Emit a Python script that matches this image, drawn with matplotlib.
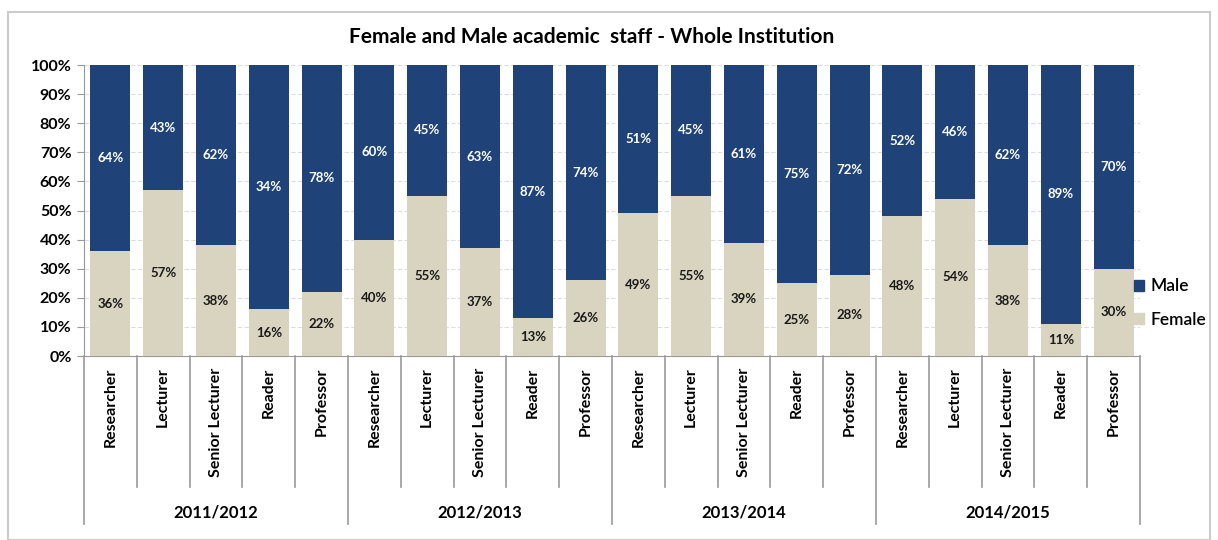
import numpy as np
import matplotlib.pyplot as plt
from matplotlib.lines import Line2D
from matplotlib.patches import Rectangle, Patch

plt.rcParams['font.family'] = ['Lato', 'DejaVu Sans']

# data
years = ['2011/2012', '2012/2013', '2013/2014', '2014/2015']
roles = ['Researcher', 'Lecturer', 'Senior Lecturer', 'Reader', 'Professor']
female = [36, 57, 38, 16, 22,
          40, 55, 37, 13, 26,
          49, 55, 39, 25, 28,
          48, 54, 38, 11, 30]
male_labels = [64, 43, 62, 34, 78,
               60, 45, 63, 87, 74,
               51, 45, 61, 75, 72,
               52, 46, 62, 89, 70]

navy = '#1F4379'
beige = '#D9D4BF'

fig = plt.figure(figsize=(12.18, 5.40), dpi=100)
ax = fig.add_axes([84/1218, (540-356)/540, (1140-84)/1218, 291/540])

n = len(female)
x = np.arange(n)
fem = np.array(female)
top = 100 - fem  # 100% stacked: male fills the rest
ax.bar(x, fem, width=0.76, color=beige, zorder=3)
ax.bar(x, top, bottom=fem, width=0.76, color=navy, zorder=3)

for i in range(n):
    ax.text(x[i], fem[i]/2, f'{female[i]}%', ha='center', va='center',
            fontsize=9.5, fontweight='bold', color='#1a1a1a', zorder=4)
    ax.text(x[i], fem[i] + top[i]/2, f'{male_labels[i]}%', ha='center', va='center',
            fontsize=9.5, fontweight='bold', color='white', zorder=4)

ax.set_xlim(-0.5, n - 0.5)
ax.set_ylim(0, 100)
ax.set_yticks(np.arange(0, 101, 10))
ax.set_yticklabels([f'{v}%' for v in range(0, 101, 10)], fontsize=11.5, fontweight='bold')
ax.yaxis.grid(True, color='#dddddd', linewidth=0.8, linestyle=(0, (4, 2)), zorder=0)
ax.tick_params(axis='y', length=5, color='#999999', pad=4)
ax.set_xticks([])
for s in ['top', 'right']:
    ax.spines[s].set_visible(False)
ax.spines['left'].set_color('#999999')
ax.spines['bottom'].set_color('#999999')

# category labels and separators
inner = (356 - 487) / 291
outer = (356 - 524) / 291
for i in range(n):
    ax.text(x[i], -0.04, roles[i % 5], rotation=90, ha='center', va='top',
            fontsize=11.5, fontweight='bold', transform=ax.get_xaxis_transform())
for b in range(n + 1):
    yb = outer if b % 5 == 0 else inner
    ax.add_line(Line2D([b - 0.5, b - 0.5], [0, yb], color='#999999', linewidth=1.2,
                       transform=ax.get_xaxis_transform(), clip_on=False))
for k, yr in enumerate(years):
    ax.text(k*5 + 2, (356 - 513) / 291, yr, ha='center', va='center',
            fontsize=12, fontweight='bold', transform=ax.get_xaxis_transform())

fig.text(592/1218, 1 - 37/540, 'Female and Male academic  staff - Whole Institution',
         ha='center', va='center', fontsize=15, fontweight='bold')

handles = [Patch(color=navy, label='Male'), Patch(color=beige, label='Female')]
fig.legend(handles=handles, loc='center left', bbox_to_anchor=(1134/1218, 1 - 303/540),
           frameon=False, prop={'size': 12.5, 'weight': 'semibold'},
           handlelength=0.6, handleheight=0.6,
           handletextpad=0.35, labelspacing=1.0, borderpad=0, borderaxespad=0)

fig.patches.append(Rectangle((8/1218, 0), 1202/1218, 1 - 12/540, transform=fig.transFigure,
                             fill=False, edgecolor='#cccccc', linewidth=1.5))

fig.savefig('out.png', dpi=100)
